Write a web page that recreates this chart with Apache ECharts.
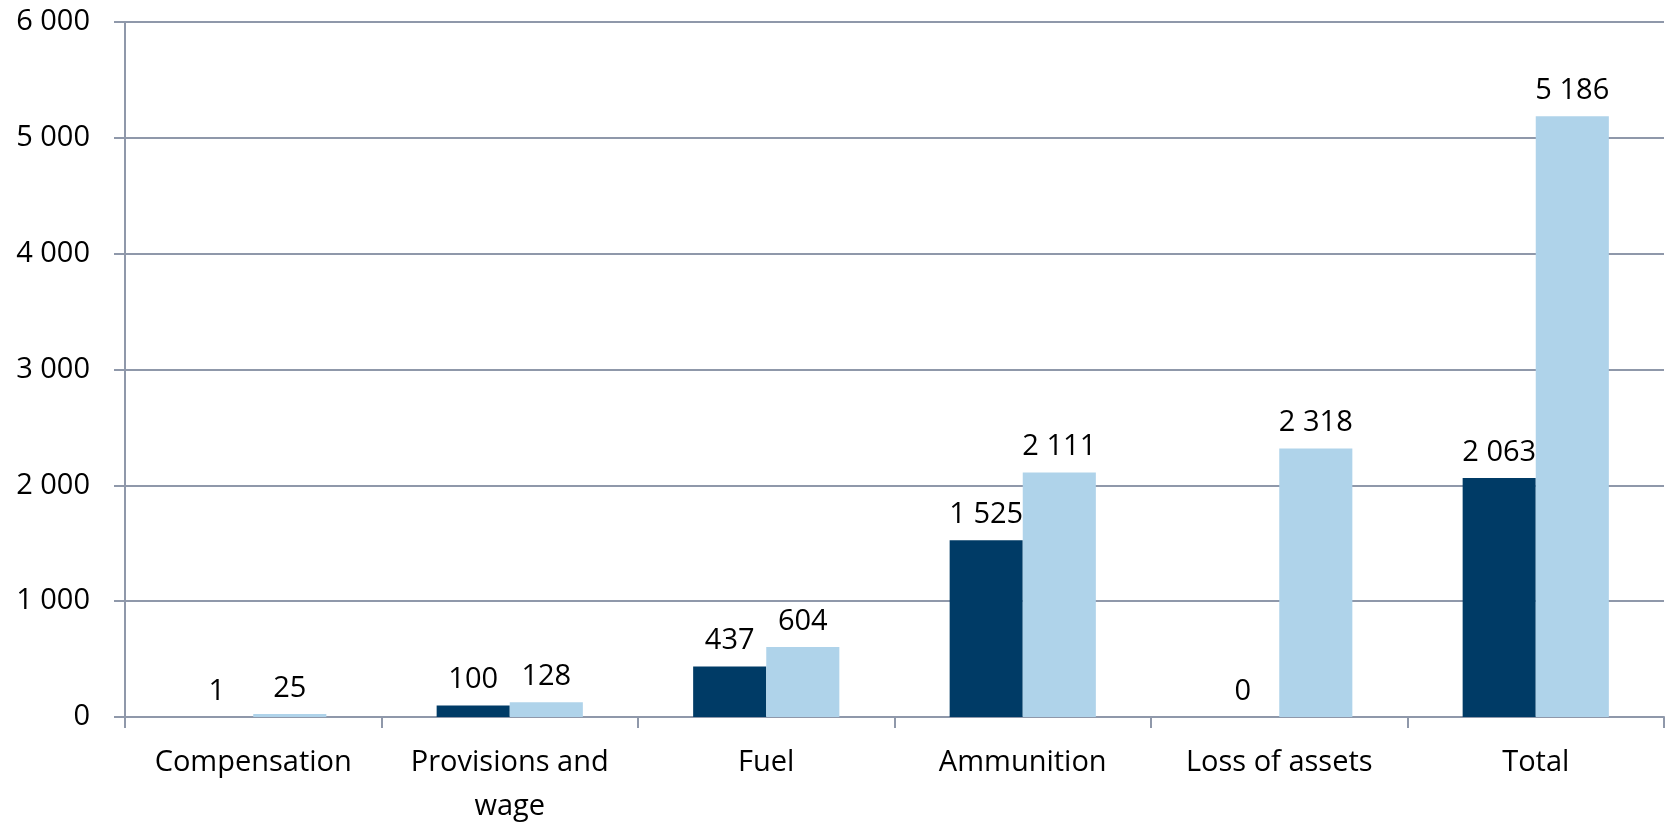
<!DOCTYPE html>
<html>
<head>
<meta charset="utf-8">
<script src="https://cdn.jsdelivr.net/npm/echarts@6/dist/echarts.min.js"></script>
<style>html,body{margin:0;padding:0;background:#fff}#c{width:1668px;height:829px}</style>
</head>
<body>
<div id="c"></div>
<script>
const categories = ['Compensation', 'Provisions and\nwage', 'Fuel', 'Ammunition', 'Loss of assets', 'Total'];
const seriesA = [1, 100, 437, 1525, 0, 2063];
const seriesB = [25, 128, 604, 2111, 2318, 5186];
const yTicks = { min: 0, max: 6000, interval: 1000 };

const fmt = v => String(Math.round(v)).replace(/\B(?=(\d{3})+(?!\d))/g, ' ');
const font = 'Open Sans';
const lineColor = '#8f98aa';

const chart = echarts.init(document.getElementById('c'));
const labelOpt = {
  show: true, position: 'top', distance: 11,
  color: '#000', fontFamily: font, fontSize: 29,
  formatter: p => fmt(p.value)
};
chart.setOption({
  animation: false,
  grid: { left: 125, right: 4, top: 22, bottom: 104, containLabel: false },
  xAxis: {
    type: 'category', data: categories,
    axisLine: { lineStyle: { color: lineColor, width: 2 } },
    axisTick: { show: true, length: 11, lineStyle: { color: lineColor, width: 2 } },
    axisLabel: { color: '#000', fontFamily: font, fontSize: 29, margin: 24, lineHeight: 44, interval: 0 }
  },
  yAxis: {
    type: 'value', min: yTicks.min, max: yTicks.max, interval: yTicks.interval,
    axisLine: { show: true, lineStyle: { color: lineColor, width: 2 } },
    axisTick: { show: true, length: 11, lineStyle: { color: lineColor, width: 2 } },
    splitLine: { lineStyle: { color: lineColor, width: 2 } },
    axisLabel: { color: '#000', fontFamily: font, fontSize: 29, margin: 35, formatter: v => fmt(v) }
  },
  series: [
    { type: 'bar', data: seriesA, barGap: '0%', barCategoryGap: '43%',
      itemStyle: { color: '#003b66' }, label: labelOpt },
    { type: 'bar', data: seriesB, barGap: '0%', barCategoryGap: '43%',
      itemStyle: { color: '#afd3ea' }, label: labelOpt }
  ]
});
</script>
</body>
</html>
